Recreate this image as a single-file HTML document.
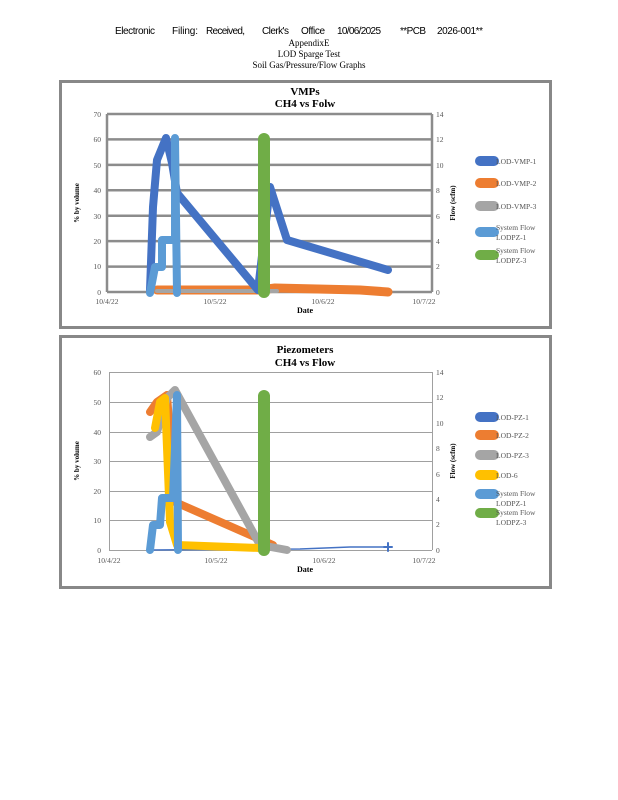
<!DOCTYPE html>
<html><head><meta charset="utf-8"><style>
html,body{margin:0;padding:0;background:#fff;}
svg{display:block;}
text{font-family:"Liberation Serif",serif;}
text.s{font-family:"Liberation Sans",sans-serif;}
</style></head><body>
<svg width="618" height="800" viewBox="0 0 618 800" xmlns="http://www.w3.org/2000/svg">
<!-- header -->
<g font-size="10" fill="#000">
<text class="s" x="115" y="34" textLength="40">Electronic</text>
<text class="s" x="172" y="34" textLength="26">Filing:</text>
<text class="s" x="206" y="34" textLength="39">Received,</text>
<text class="s" x="262" y="34" textLength="27">Clerk's</text>
<text class="s" x="301" y="34" textLength="24">Office</text>
<text class="s" x="337" y="34" textLength="44">10/06/2025</text>
<text class="s" x="400" y="34" textLength="26">**PCB</text>
<text class="s" x="437" y="34" textLength="46">2026-001**</text>
</g>
<g font-size="9" text-anchor="middle" fill="#000">
<text x="309" y="46">AppendixE</text>
<text x="309" y="57">LOD Sparge Test</text>
<text x="309" y="68">Soil Gas/Pressure/Flow Graphs</text>
</g>

<!-- chart 1 -->
<rect x="60.5" y="81.5" width="490" height="246" fill="#fff" stroke="#888" stroke-width="3"/>
<g font-weight="bold" font-size="11" text-anchor="middle"><text x="305" y="95">VMPs</text><text x="305" y="107">CH4 vs Folw</text></g>
<g stroke="#8c8c8c" stroke-width="2.5">
<line x1="107" y1="114" x2="432" y2="114"/><line x1="107" y1="139.4" x2="432" y2="139.4"/>
<line x1="107" y1="164.9" x2="432" y2="164.9"/><line x1="107" y1="190.3" x2="432" y2="190.3"/>
<line x1="107" y1="215.7" x2="432" y2="215.7"/><line x1="107" y1="241.1" x2="432" y2="241.1"/>
<line x1="107" y1="266.6" x2="432" y2="266.6"/><line x1="107" y1="292" x2="432" y2="292"/>
<line x1="107" y1="114" x2="107" y2="292"/><line x1="432" y1="114" x2="432" y2="292"/>
</g>
<g font-size="7.5" fill="#555" text-anchor="end">
<text x="101" y="117">70</text><text x="101" y="142">60</text><text x="101" y="168">50</text><text x="101" y="193">40</text><text x="101" y="219">30</text><text x="101" y="244">20</text><text x="101" y="269">10</text><text x="101" y="295">0</text>
</g>
<g font-size="7.5" fill="#555">
<text x="436" y="117">14</text><text x="436" y="142">12</text><text x="436" y="168">10</text><text x="436" y="193">8</text><text x="436" y="219">6</text><text x="436" y="244">4</text><text x="436" y="269">2</text><text x="436" y="295">0</text>
</g>
<g font-size="7.5" fill="#555" text-anchor="middle"><text x="107" y="304">10/4/22</text><text x="215" y="304">10/5/22</text><text x="323" y="304">10/6/22</text><text x="424" y="304">10/7/22</text></g>
<text x="305" y="313" font-size="8" font-weight="bold" text-anchor="middle">Date</text>
<text x="0" y="0" font-size="7" font-weight="bold" text-anchor="middle" transform="translate(79,203) rotate(-90)">% by volume</text>
<text x="0" y="0" font-size="7" font-weight="bold" text-anchor="middle" transform="translate(455,203) rotate(-90)">Flow (scfm)</text>
<g fill="none" stroke-linecap="round" stroke-linejoin="round">
<polyline stroke="#ED7D31" stroke-width="9" points="157,290 260,290 275,288 360,290 388,292"/>
<polyline stroke="#A5A5A5" stroke-width="4" points="157,291 277,291"/>
<polyline stroke="#4472C4" stroke-width="8" points="150,290 153,207 157,160 166,138 172,163 177,193 258,290 270,187 287,240 388,270"/>
<polyline stroke="#5B9BD5" stroke-width="8" points="150,293 155,267 162,267 162,240 167,240 175,240 175,138 177,293"/>
<line stroke="#70AD47" stroke-width="12" x1="264" y1="292" x2="264" y2="139"/>
</g>
<g font-size="7.5" fill="#555">
<line x1="480" y1="161" x2="494" y2="161" stroke="#4472C4" stroke-width="10" stroke-linecap="round"/><text x="496" y="164">LOD-VMP-1</text>
<line x1="480" y1="183" x2="494" y2="183" stroke="#ED7D31" stroke-width="10" stroke-linecap="round"/><text x="496" y="186">LOD-VMP-2</text>
<line x1="480" y1="206" x2="494" y2="206" stroke="#A5A5A5" stroke-width="10" stroke-linecap="round"/><text x="496" y="209">LOD-VMP-3</text>
<line x1="480" y1="232" x2="494" y2="232" stroke="#5B9BD5" stroke-width="10" stroke-linecap="round"/><text x="496" y="230">System Flow</text><text x="496" y="240">LODPZ-1</text>
<line x1="480" y1="255" x2="494" y2="255" stroke="#70AD47" stroke-width="10" stroke-linecap="round"/><text x="496" y="253">System Flow</text><text x="496" y="263">LODPZ-3</text>
</g>

<!-- chart 2 -->
<rect x="60.5" y="336.5" width="490" height="251" fill="#fff" stroke="#888" stroke-width="3"/>
<g font-weight="bold" font-size="11" text-anchor="middle"><text x="305" y="353">Piezometers</text><text x="305" y="366">CH4 vs Flow</text></g>
<g stroke="#a0a0a0" stroke-width="1">
<line x1="109" y1="372.5" x2="432" y2="372.5"/><line x1="109" y1="402.5" x2="432" y2="402.5"/>
<line x1="109" y1="432.5" x2="432" y2="432.5"/><line x1="109" y1="461.5" x2="432" y2="461.5"/>
<line x1="109" y1="491.5" x2="432" y2="491.5"/><line x1="109" y1="520.5" x2="432" y2="520.5"/>
<line x1="109" y1="550.5" x2="432" y2="550.5"/>
<line x1="109.5" y1="372" x2="109.5" y2="550"/><line x1="432.5" y1="372" x2="432.5" y2="550"/>
</g>
<g font-size="7.5" fill="#555" text-anchor="end">
<text x="101" y="375">60</text><text x="101" y="405">50</text><text x="101" y="435">40</text><text x="101" y="464">30</text><text x="101" y="494">20</text><text x="101" y="523">10</text><text x="101" y="553">0</text>
</g>
<g font-size="7.5" fill="#555">
<text x="436" y="375">14</text><text x="436" y="400">12</text><text x="436" y="426">10</text><text x="436" y="451">8</text><text x="436" y="477">6</text><text x="436" y="502">4</text><text x="436" y="527">2</text><text x="436" y="553">0</text>
</g>
<g font-size="7.5" fill="#555" text-anchor="middle"><text x="109" y="563">10/4/22</text><text x="216" y="563">10/5/22</text><text x="324" y="563">10/6/22</text><text x="424" y="563">10/7/22</text></g>
<text x="305" y="572" font-size="8" font-weight="bold" text-anchor="middle">Date</text>
<text x="0" y="0" font-size="7" font-weight="bold" text-anchor="middle" transform="translate(79,461) rotate(-90)">% by volume</text>
<text x="0" y="0" font-size="7" font-weight="bold" text-anchor="middle" transform="translate(455,461) rotate(-90)">Flow (scfm)</text>
<g fill="none" stroke-linecap="round" stroke-linejoin="round">
<polyline stroke="#4472C4" stroke-width="1.5" points="150,550 300,549 350,547 388,547"/>
<path d="M384 547h8M388 543v8" stroke="#4472C4" stroke-width="2"/>
<polyline stroke="#ED7D31" stroke-width="8" points="150,412 157,402 167,395 175,502 273,545"/>
<polyline stroke="#A5A5A5" stroke-width="8" points="150,437 157,432 167,398 175,390 260,545 287,550"/>
<polyline stroke="#FFC000" stroke-width="8" points="155,428 160,402 165,398 170,522 177,545 260,548"/>
<polyline stroke="#5B9BD5" stroke-width="8" points="150,550 153,525 160,525 162,498 173,498 177,395 178,550"/>
<line stroke="#70AD47" stroke-width="12" x1="264" y1="550" x2="264" y2="396"/>
</g>
<g font-size="7.5" fill="#555">
<line x1="480" y1="417" x2="494" y2="417" stroke="#4472C4" stroke-width="10" stroke-linecap="round"/><text x="496" y="420">LOD-PZ-1</text>
<line x1="480" y1="435" x2="494" y2="435" stroke="#ED7D31" stroke-width="10" stroke-linecap="round"/><text x="496" y="438">LOD-PZ-2</text>
<line x1="480" y1="455" x2="494" y2="455" stroke="#A5A5A5" stroke-width="10" stroke-linecap="round"/><text x="496" y="458">LOD-PZ-3</text>
<line x1="480" y1="475" x2="494" y2="475" stroke="#FFC000" stroke-width="10" stroke-linecap="round"/><text x="496" y="478">LOD-6</text>
<line x1="480" y1="494" x2="494" y2="494" stroke="#5B9BD5" stroke-width="10" stroke-linecap="round"/><text x="496" y="496">System Flow</text><text x="496" y="506">LODPZ-1</text>
<line x1="480" y1="513" x2="494" y2="513" stroke="#70AD47" stroke-width="10" stroke-linecap="round"/><text x="496" y="515">System Flow</text><text x="496" y="525">LODPZ-3</text>
</g>
</svg>
</body></html>
